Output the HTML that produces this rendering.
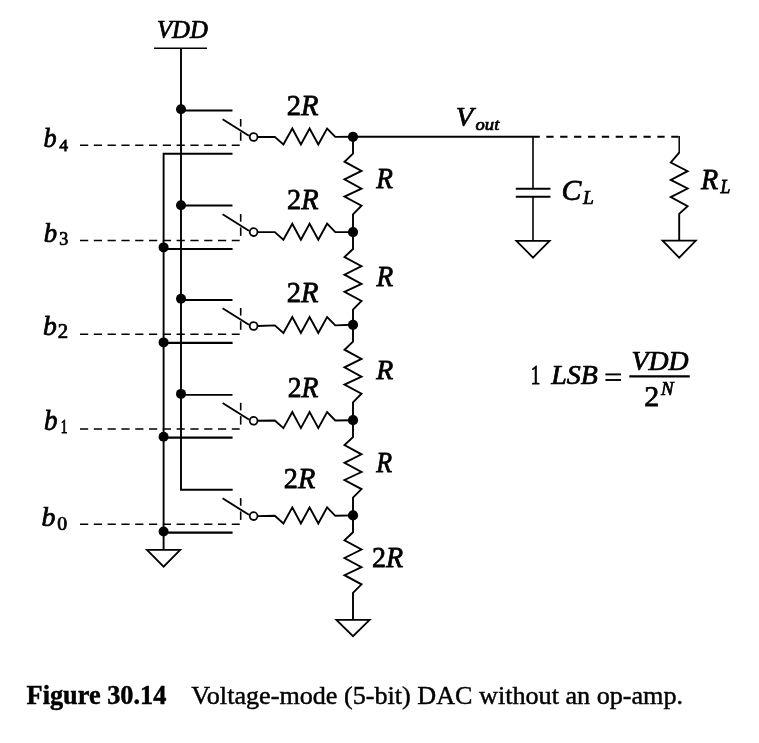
<!DOCTYPE html>
<html><head><meta charset="utf-8"><style>
html,body{margin:0;padding:0;background:#fff;}
svg{display:block;will-change:transform;}
text{font-family:"Liberation Serif",serif;fill:#000;}
</style></head><body>
<svg width="759" height="743" viewBox="0 0 759 743">
<rect width="759" height="743" fill="#fff"/>
<g stroke="#000" fill="none" stroke-linecap="butt" stroke-linejoin="miter">
<line x1="154" y1="48.2" x2="207" y2="48.2" stroke-width="1.6" />
<path d="M181.0 48.2V489.7H232.7" stroke-width="1.9" fill="none" />
<path d="M232.5 153.8H163.6V549.9" stroke-width="1.9" fill="none" />
<path d="M147 549.9H180.2L163.6 566.7Z" stroke-width="1.8" fill="none" />
<line x1="181" y1="110.5" x2="232.5" y2="110.5" stroke-width="1.9" />
<circle cx="181" cy="109.3" r="5.0" fill="#000" stroke="none"/>
<line x1="222.6" y1="119.2" x2="248.9" y2="135.7" stroke-width="1.9" />
<circle cx="253.6" cy="137" r="3.9" fill="#fff" stroke-width="1.8"/>
<path d="M80 145.2H239.7" stroke-width="1.55" fill="none" stroke-dasharray="8.2 5.6"/>
<line x1="240.7" y1="119" x2="240.7" y2="126.6" stroke-width="1.6" />
<line x1="240.7" y1="132.3" x2="240.7" y2="140.8" stroke-width="1.6" />
<path d="M257.5 137L274.8 136.9L283.4 144.5L292.3 128.5L300.9 144.5L309.6 128.5L318.3 144.5L327.1 128.5L335.3 136.9L353 136.8" stroke-width="1.9" fill="none" />
<circle cx="353" cy="136.8" r="5.1" fill="#000" stroke="none"/>
<path d="M353 136.8L353 153.7L344.5 161.7L361.5 170.9L344.5 179.4L361.5 188.6L344.5 196.6L361.5 205.7L353 214.3L353 232.1" stroke-width="1.9" fill="none" />
<line x1="181" y1="205.5" x2="232.5" y2="205.5" stroke-width="1.9" />
<circle cx="181" cy="205.2" r="5.0" fill="#000" stroke="none"/>
<line x1="163.6" y1="249" x2="232.6" y2="249" stroke-width="2.2" />
<circle cx="163.6" cy="247.4" r="5.0" fill="#000" stroke="none"/>
<line x1="222.6" y1="214.3" x2="248.9" y2="230.8" stroke-width="1.9" />
<circle cx="253.6" cy="232.1" r="3.9" fill="#fff" stroke-width="1.8"/>
<path d="M80 240.4H239.7" stroke-width="1.55" fill="none" stroke-dasharray="8.2 5.6"/>
<line x1="240.7" y1="214.1" x2="240.7" y2="221.7" stroke-width="1.6" />
<line x1="240.7" y1="227.4" x2="240.7" y2="235.9" stroke-width="1.6" />
<path d="M257.5 232.1L274.8 232.1L283.4 239.7L292.3 223.7L300.9 239.7L309.6 223.7L318.3 239.7L327.1 223.7L335.3 232.1L353 232.1" stroke-width="1.9" fill="none" />
<circle cx="353" cy="232.1" r="5.1" fill="#000" stroke="none"/>
<path d="M353 232.1L353 249L344.5 257L361.5 266.2L344.5 274.7L361.5 283.9L344.5 291.9L361.5 301L353 309.6L353 324.8" stroke-width="1.9" fill="none" />
<line x1="181" y1="300" x2="232.5" y2="300" stroke-width="1.9" />
<circle cx="181" cy="298.8" r="5.0" fill="#000" stroke="none"/>
<line x1="163.6" y1="342.8" x2="232.6" y2="342.8" stroke-width="2.2" />
<circle cx="163.6" cy="342.4" r="5.0" fill="#000" stroke="none"/>
<line x1="222.6" y1="308.2" x2="248.9" y2="324.7" stroke-width="1.9" />
<circle cx="253.6" cy="326" r="3.9" fill="#fff" stroke-width="1.8"/>
<path d="M80 334.3H239.7" stroke-width="1.55" fill="none" stroke-dasharray="8.2 5.6"/>
<line x1="240.7" y1="308" x2="240.7" y2="315.6" stroke-width="1.6" />
<line x1="240.7" y1="321.3" x2="240.7" y2="329.8" stroke-width="1.6" />
<path d="M257.5 326L274.8 325.4L283.4 333L292.3 317L300.9 333L309.6 317L318.3 333L327.1 317L335.3 325.4L353 324.8" stroke-width="1.9" fill="none" />
<circle cx="353" cy="324.8" r="5.1" fill="#000" stroke="none"/>
<path d="M353 324.8L353 341.7L344.5 349.7L361.5 358.9L344.5 367.4L361.5 376.6L344.5 384.6L361.5 393.7L353 402.3L353 420.2" stroke-width="1.9" fill="none" />
<line x1="181" y1="394.9" x2="232.5" y2="394.9" stroke-width="1.9" />
<circle cx="181" cy="393.9" r="5.0" fill="#000" stroke="none"/>
<line x1="163.6" y1="437.7" x2="232.6" y2="437.7" stroke-width="2.2" />
<circle cx="163.6" cy="436.8" r="5.0" fill="#000" stroke="none"/>
<line x1="222.6" y1="403" x2="248.9" y2="419.5" stroke-width="1.9" />
<circle cx="253.6" cy="420.8" r="3.9" fill="#fff" stroke-width="1.8"/>
<path d="M80 429H239.7" stroke-width="1.55" fill="none" stroke-dasharray="8.2 5.6"/>
<line x1="240.7" y1="402.8" x2="240.7" y2="410.4" stroke-width="1.6" />
<line x1="240.7" y1="416.1" x2="240.7" y2="424.6" stroke-width="1.6" />
<path d="M257.5 420.8L274.8 420.5L283.4 428.1L292.3 412.1L300.9 428.1L309.6 412.1L318.3 428.1L327.1 412.1L335.3 420.5L353 420.2" stroke-width="1.9" fill="none" />
<circle cx="353" cy="420.2" r="5.1" fill="#000" stroke="none"/>
<path d="M353 420.2L353 437.1L344.5 445.1L361.5 454.3L344.5 462.8L361.5 472L344.5 480L361.5 489.1L353 497.7L353 515.4" stroke-width="1.9" fill="none" />
<line x1="163.6" y1="532.6" x2="232.6" y2="532.6" stroke-width="2.2" />
<circle cx="163.6" cy="531.5" r="5.0" fill="#000" stroke="none"/>
<line x1="222.6" y1="498.3" x2="248.9" y2="514.8" stroke-width="1.9" />
<circle cx="253.6" cy="516.1" r="3.9" fill="#fff" stroke-width="1.8"/>
<path d="M80 524.2H239.7" stroke-width="1.55" fill="none" stroke-dasharray="8.2 5.6"/>
<line x1="240.7" y1="498.1" x2="240.7" y2="505.7" stroke-width="1.6" />
<line x1="240.7" y1="511.4" x2="240.7" y2="519.9" stroke-width="1.6" />
<path d="M257.5 516.1L274.8 515.8L283.4 523.4L292.3 507.4L300.9 523.4L309.6 507.4L318.3 523.4L327.1 507.4L335.3 515.8L353 515.4" stroke-width="1.9" fill="none" />
<circle cx="353" cy="515.4" r="5.1" fill="#000" stroke="none"/>
<path d="M353 515.4L353 532.3L344.5 540.3L361.5 549.5L344.5 558L361.5 567.2L344.5 575.2L361.5 584.3L353 592.9L353 619.9" stroke-width="1.9" fill="none" />
<path d="M336.4 619.9H369.6L353 636.2Z" stroke-width="1.8" fill="none" />
<path d="M353 136.8H539.8" stroke-width="1.9" fill="none" />
<path d="M546.3 136.8H679.2" stroke-width="1.9" fill="none" stroke-dasharray="7.3 6.58"/>
<line x1="679.2" y1="136" x2="679.2" y2="153" stroke-width="1.5" />
<line x1="533" y1="136.8" x2="533" y2="188.7" stroke-width="1.6" />
<line x1="515.8" y1="188.7" x2="550.5" y2="188.7" stroke-width="2.1" />
<line x1="515.8" y1="196.8" x2="550.5" y2="196.8" stroke-width="2.1" />
<line x1="533" y1="196.8" x2="533" y2="240.8" stroke-width="1.6" />
<path d="M516.4 240.8H549.6L533 257.6Z" stroke-width="1.8" fill="none" />
<path d="M679.2 152.6L670.8 162.5L687.6 171.2L670.8 179.9L687.6 188.5L670.8 197.1L687.6 206.1L679.2 213.8V240.7" stroke-width="1.9" fill="none" />
<path d="M662.6 240.7H695.8L679.2 257.7Z" stroke-width="1.8" fill="none" />
<line x1="605.4" y1="374.4" x2="621" y2="374.4" stroke-width="1.9"/>
<line x1="605.4" y1="380" x2="621" y2="380" stroke-width="1.9"/>
<line x1="629.3" y1="376.4" x2="689.8" y2="376.4" stroke-width="2.1"/>
</g>
<g>
<text transform="translate(156.96,37.71) scale(0.2472,0.2448)" font-size="100" font-style="italic" font-weight="normal" stroke="#000" stroke-width="3.05">VDD</text>
<text transform="translate(43.45,147.13) scale(0.2628,0.2743)" font-size="100" font-style="italic" font-weight="normal" stroke="#000" stroke-width="2.79">b</text>
<text transform="translate(59.25,150.50) scale(0.1761,0.1769)" font-size="100" font-style="normal" font-weight="normal" stroke="#000" stroke-width="4.25">4</text>
<text transform="translate(43.83,241.74) scale(0.2674,0.2643)" font-size="100" font-style="italic" font-weight="normal" stroke="#000" stroke-width="2.82">b</text>
<text transform="translate(59.30,245.12) scale(0.1805,0.1803)" font-size="100" font-style="normal" font-weight="normal" stroke="#000" stroke-width="4.16">3</text>
<text transform="translate(43.09,335.12) scale(0.2767,0.2786)" font-size="100" font-style="italic" font-weight="normal" stroke="#000" stroke-width="2.70">b</text>
<text transform="translate(57.87,338.40) scale(0.2075,0.2046)" font-size="100" font-style="normal" font-weight="normal" stroke="#000" stroke-width="3.64">2</text>
<text transform="translate(44.12,429.82) scale(0.2698,0.2843)" font-size="100" font-style="italic" font-weight="normal" stroke="#000" stroke-width="2.71">b</text>
<text transform="translate(60.79,433.40) scale(0.1343,0.1818)" font-size="100" font-style="normal" font-weight="normal" stroke="#000" stroke-width="4.75">1</text>
<text transform="translate(41.38,526.13) scale(0.2791,0.2700)" font-size="100" font-style="italic" font-weight="normal" stroke="#000" stroke-width="2.73">b</text>
<text transform="translate(57.21,529.93) scale(0.1976,0.1866)" font-size="100" font-style="normal" font-weight="normal" stroke="#000" stroke-width="3.90">0</text>
<text transform="translate(286.76,114.70) scale(0.2857,0.3000)" font-size="100" font-style="normal" font-weight="normal" stroke="#000" stroke-width="2.56">2<tspan font-style="italic">R</tspan></text>
<text transform="translate(286.96,209.40) scale(0.2838,0.3000)" font-size="100" font-style="normal" font-weight="normal" stroke="#000" stroke-width="2.57">2<tspan font-style="italic">R</tspan></text>
<text transform="translate(286.76,301.80) scale(0.2857,0.2954)" font-size="100" font-style="normal" font-weight="normal" stroke="#000" stroke-width="2.58">2<tspan font-style="italic">R</tspan></text>
<text transform="translate(287.80,397.10) scale(0.2762,0.3000)" font-size="100" font-style="normal" font-weight="normal" stroke="#000" stroke-width="2.60">2<tspan font-style="italic">R</tspan></text>
<text transform="translate(283.77,488.10) scale(0.2829,0.3000)" font-size="100" font-style="normal" font-weight="normal" stroke="#000" stroke-width="2.57">2<tspan font-style="italic">R</tspan></text>
<text transform="translate(372.08,567.20) scale(0.2800,0.2923)" font-size="100" font-style="normal" font-weight="normal" stroke="#000" stroke-width="2.62">2<tspan font-style="italic">R</tspan></text>
<text transform="translate(376.30,187.60) scale(0.2729,0.2954)" font-size="100" font-style="italic" font-weight="normal" stroke="#000" stroke-width="2.64">R</text>
<text transform="translate(376.60,285.50) scale(0.2729,0.2954)" font-size="100" font-style="italic" font-weight="normal" stroke="#000" stroke-width="2.64">R</text>
<text transform="translate(376.30,379.40) scale(0.2780,0.2785)" font-size="100" font-style="italic" font-weight="normal" stroke="#000" stroke-width="2.70">R</text>
<text transform="translate(376.30,471.50) scale(0.2593,0.2877)" font-size="100" font-style="italic" font-weight="normal" stroke="#000" stroke-width="2.74">R</text>
<text transform="translate(455.77,125.77) scale(0.2864,0.2657)" font-size="100" font-style="italic" font-weight="normal" stroke="#000" stroke-width="2.72">V</text>
<text transform="translate(475.54,129.83) scale(0.1866,0.1737)" font-size="100" font-style="italic" font-weight="normal" stroke="#000" stroke-width="4.16">out</text>
<text transform="translate(561.52,200.20) scale(0.2968,0.3015)" font-size="100" font-style="italic" font-weight="normal" stroke="#000" stroke-width="2.51">C</text>
<text transform="translate(582.89,203.50) scale(0.1942,0.1877)" font-size="100" font-style="italic" font-weight="normal" stroke="#000" stroke-width="3.93">L</text>
<text transform="translate(700.90,189.30) scale(0.2814,0.2908)" font-size="100" font-style="italic" font-weight="normal" stroke="#000" stroke-width="2.62">R</text>
<text transform="translate(720.38,192.60) scale(0.1769,0.1862)" font-size="100" font-style="italic" font-weight="normal" stroke="#000" stroke-width="4.13">L</text>
<text transform="translate(530.78,384.20) scale(0.1914,0.2803)" font-size="100" font-style="normal" font-weight="normal" stroke="#000" stroke-width="3.18">1</text>
<text transform="translate(551.28,384.25) scale(0.2788,0.2731)" font-size="100" font-style="italic" font-weight="normal" stroke="#000" stroke-width="2.72">LSB</text>
<text transform="translate(631.51,369.95) scale(0.2779,0.2731)" font-size="100" font-style="italic" font-weight="normal" stroke="#000" stroke-width="2.72">VDD</text>
<text transform="translate(644.20,406.40) scale(0.3000,0.3000)" font-size="100" font-style="normal" font-weight="normal" stroke="#000" stroke-width="2.50">2</text>
<text transform="translate(661.09,395.10) scale(0.1889,0.1831)" font-size="100" font-style="italic" font-weight="normal" stroke="#000" stroke-width="4.03">N</text>
<text x="26.6" y="703.5" font-size="26.3" font-weight="bold" stroke="#000" stroke-width="0.45">Figure 30.14</text>
<text x="191.3" y="703.5" font-size="26.15" stroke="#000" stroke-width="0.45">Voltage-mode (5-bit) DAC without an op-amp.</text>
</g>
</svg>
</body></html>
